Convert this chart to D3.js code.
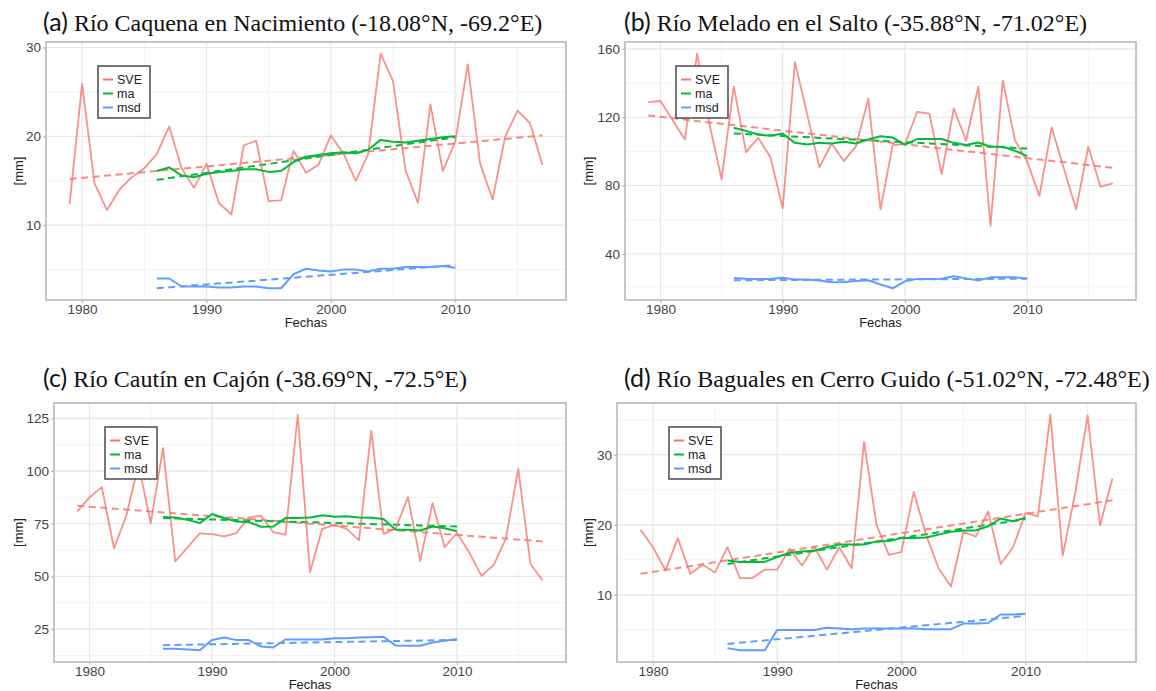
<!DOCTYPE html>
<html>
<head>
<meta charset="utf-8">
<script src="https://cdn.jsdelivr.net/npm/d3@7"></script>
<style>
body { margin: 0; background: #fff; }
svg { display: block; }
</style>
</head>
<body>
<svg id="chart" width="1156" height="691"></svg>
<script>
// years on the x axis
var sveYears = [1979, 1980, 1981, 1982, 1983, 1984, 1985, 1986, 1987, 1988, 1989, 1990, 1991, 1992, 1993, 1994, 1995, 1996, 1997, 1998,
	1999, 2000, 2001, 2002, 2003, 2004, 2005, 2006, 2007, 2008, 2009, 2010, 2011, 2012, 2013, 2014, 2015, 2016, 2017];
var movYears = [1986, 1987, 1988, 1989, 1990, 1991, 1992, 1993, 1994, 1995, 1996, 1997, 1998, 1999, 2000, 2001, 2002, 2003, 2004, 2005,
	2006, 2007, 2008, 2009, 2010];
var sveTrendYears = [1979, 2017];
var movTrendYears = [1986, 2010];
var xTicks = [1980, 1990, 2000, 2010];
var xMinor = [1985, 1995, 2005, 2015];

// (a) Rio Caquena
var sveA = [12.4, 25.9, 14.7, 11.7, 14.0, 15.4, 16.4, 18.0, 21.1, 16.4, 14.2, 16.9, 12.5, 11.2, 19.0, 19.5, 12.7, 12.8, 18.4, 15.9,
	16.8, 20.1, 18.1, 15.0, 18.0, 29.3, 26.2, 16.2, 12.5, 23.6, 16.1, 19.4, 28.1, 16.9, 12.9, 19.9, 22.9, 21.5, 16.8];
var maA = [16.1, 16.5, 15.6, 15.4, 15.8, 16.0, 16.1, 16.3, 16.3, 16.0, 16.1, 17.1, 17.7, 17.9, 18.1, 18.2, 18.1, 18.5, 19.6, 19.4,
	19.3, 19.5, 19.7, 19.9, 20.0];
var msdA = [4.0, 4.0, 3.1, 3.1, 3.1, 3.0, 3.0, 3.1, 3.1, 2.9, 2.9, 4.5, 5.1, 4.9, 4.8, 5.0, 5.0, 4.8, 5.1, 5.1,
	5.3, 5.3, 5.3, 5.4, 5.2];
var sveTrendA = [15.2, 20.1];
var maTrendA = [15.1, 19.9];
var msdTrendA = [2.9, 5.5];

// (b) Rio Melado
var sveB = [128.8, 129.5, 118.2, 107.0, 157.2, 116.3, 83.6, 138.1, 99.6, 107.9, 96.5, 66.7, 152.3, 121.8, 90.6, 104.6, 94.3, 103.1, 130.9, 66.1,
	103.7, 104.2, 123.1, 122.1, 86.7, 125.1, 106.2, 138.1, 56.4, 141.6, 106.6, 93.9, 73.9, 114.0, 90.0, 66.1, 102.7, 79.3, 81.3];
var maB = [113.8, 112.0, 109.9, 109.1, 110.5, 105.0, 104.0, 105.0, 104.6, 105.6, 104.6, 107.0, 108.9, 108.1, 104.0, 107.2, 107.2, 107.2, 105.0, 103.7,
	105.2, 102.7, 102.7, 100.4, 97.2];
var msdB = [25.8, 25.4, 25.3, 25.3, 26.0, 24.9, 24.9, 24.3, 23.3, 23.5, 24.1, 24.5, 22.0, 19.8, 23.9, 25.3, 25.3, 25.4, 26.8, 25.6,
	24.3, 26.2, 26.2, 26.2, 25.6];
var sveTrendB = [121.0, 90.4];
var maTrendB = [110.5, 101.7];
var msdTrendB = [24.5, 25.4];

// (c) Rio Cautin
var sveC = [80.9, 87.5, 92.4, 63.4, 78.8, 103.0, 75.3, 110.9, 57.1, 63.8, 70.4, 70.1, 69.0, 70.6, 78.0, 78.8, 71.0, 69.8, 126.7, 52.1,
	72.6, 74.5, 72.6, 67.1, 119.1, 70.1, 72.9, 87.7, 57.4, 84.8, 63.9, 70.6, 61.4, 50.3, 55.5, 68.2, 101.1, 55.9, 48.1];
var maC = [78.2, 78.0, 76.9, 75.3, 79.6, 77.7, 76.1, 75.8, 73.6, 73.7, 77.7, 77.7, 78.0, 79.0, 78.3, 78.6, 78.0, 77.8, 77.2, 72.2,
	72.2, 71.8, 73.7, 72.9, 71.4];
var msdC = [15.7, 15.7, 15.3, 15.0, 19.9, 21.0, 19.8, 19.8, 16.8, 16.3, 20.1, 20.1, 20.1, 20.1, 20.7, 20.7, 21.0, 21.2, 21.4, 17.2,
	17.1, 17.1, 18.7, 19.5, 20.3];
var sveTrendC = [83.5, 66.6];
var maTrendC = [77.7, 73.7];
var msdTrendC = [17.4, 19.9];

// (d) Rio Baguales
var sveD = [19.3, 16.8, 13.5, 18.1, 13.0, 14.3, 13.2, 16.8, 12.4, 12.4, 13.6, 13.6, 16.6, 14.2, 16.9, 13.6, 16.8, 13.8, 31.8, 20.0,
	15.7, 16.1, 24.7, 18.5, 13.8, 11.2, 19.0, 18.3, 21.9, 14.4, 16.8, 21.7, 21.2, 35.7, 15.6, 24.5, 35.6, 19.9, 26.6];
var maD = [14.9, 14.7, 14.7, 14.7, 15.4, 16.0, 16.2, 16.3, 16.8, 17.2, 17.2, 17.2, 17.6, 17.7, 18.1, 18.1, 18.2, 18.6, 19.0, 19.2,
	19.2, 19.8, 20.9, 20.5, 21.0];
var msdD = [2.4, 2.1, 2.1, 2.1, 5.0, 5.0, 5.0, 5.0, 5.3, 5.2, 5.1, 5.2, 5.2, 5.2, 5.2, 5.2, 5.1, 5.1, 5.1, 5.9,
	5.9, 6.0, 7.2, 7.2, 7.3];
var sveTrendD = [13.0, 23.5];
var maTrendD = [14.4, 20.8];
var msdTrendD = [3.0, 7.0];

// y ticks per panel
var yTicksA = [10, 20, 30], yMinorA = [5, 15, 25];
var yTicksB = [40, 80, 120, 160], yMinorB = [20, 60, 100, 140];
var yTicksC = [25, 50, 75, 100, 125], yMinorC = [12.5, 37.5, 62.5, 87.5, 112.5];
var yTicksD = [10, 20, 30], yMinorD = [5, 15, 25, 35];

var tags = ['(a)', '(b)', '(c)', '(d)'];
var names = ['Río Caquena en Nacimiento (-18.08°N, -69.2°E)', 'Río Melado en el Salto (-35.88°N, -71.02°E)',
	'Río Cautín en Cajón (-38.69°N, -72.5°E)', 'Río Baguales en Cerro Guido (-51.02°N, -72.48°E)'];
var seriesNames = ['SVE', 'ma', 'msd'];
var colors = ['#F8766D', '#00BA38', '#619CFF'];

var svg = d3.select('#chart');

var boxes = [
	{left: 46, top: 42, right: 566, bottom: 300, titleX: 43, titleY: 31, legX: 98, legY: 66, yLabX: 18},
	{left: 625, top: 42, right: 1136, bottom: 300, titleX: 624, titleY: 31, legX: 676, legY: 66, yLabX: 588},
	{left: 54, top: 403, right: 566, bottom: 662, titleX: 43, titleY: 387, legX: 105, legY: 427, yLabX: 18},
	{left: 617, top: 403, right: 1136, bottom: 662, titleX: 624, titleY: 387, legX: 669, legY: 427, yLabX: 588}
];

var panelData = [
	{sve: sveA, ma: maA, msd: msdA, trends: [sveTrendA, maTrendA, msdTrendA], yTicks: yTicksA, yMinor: yMinorA},
	{sve: sveB, ma: maB, msd: msdB, trends: [sveTrendB, maTrendB, msdTrendB], yTicks: yTicksB, yMinor: yMinorB},
	{sve: sveC, ma: maC, msd: msdC, trends: [sveTrendC, maTrendC, msdTrendC], yTicks: yTicksC, yMinor: yMinorC},
	{sve: sveD, ma: maD, msd: msdD, trends: [sveTrendD, maTrendD, msdTrendD], yTicks: yTicksD, yMinor: yMinorD}
];

function expand(ext) {
	var span = ext[1] - ext[0];
	return [ext[0] - span * 0.05, ext[1] + span * 0.05];
}

panelData.forEach(function(d, i) { drawPanel(d, boxes[i], i) });

function drawPanel(d, b, i) {
	var x = d3.scaleLinear()
		.domain(expand(d3.extent(sveYears)))
		.range([b.left, b.right]);
	var allVals = d.sve.concat(d.ma, d.msd, d.trends[0], d.trends[1], d.trends[2]);
	var y = d3.scaleLinear()
		.domain(expand(d3.extent(allVals)))
		.range([b.bottom, b.top]);

	var g = svg.append('g');

	// title
	var title = g.append('text')
		.attr('x', b.titleX)
		.attr('y', b.titleY)
		.attr('fill', '#111');
	title.append('tspan')
		.style('font-family', 'Lato, "Open Sans", sans-serif')
		.style('font-size', '25px')
		.text(tags[i]);
	title.append('tspan')
		.attr('dx', 6)
		.style('font-family', '"Liberation Serif", "Times New Roman", serif')
		.style('font-size', '24px')
		.text(names[i]);

	// grid
	g.selectAll('.minor-y').data(d.yMinor).enter().append('line')
		.attr('x1', b.left).attr('x2', b.right)
		.attr('y1', function(v) { return y(v) }).attr('y2', function(v) { return y(v) })
		.attr('stroke', '#f3f3f3').attr('stroke-width', 1);
	g.selectAll('.minor-x').data(xMinor).enter().append('line')
		.attr('y1', b.top).attr('y2', b.bottom)
		.attr('x1', function(v) { return x(v) }).attr('x2', function(v) { return x(v) })
		.attr('stroke', '#f3f3f3').attr('stroke-width', 1);
	g.selectAll('.major-y').data(d.yTicks).enter().append('line')
		.attr('x1', b.left).attr('x2', b.right)
		.attr('y1', function(v) { return y(v) }).attr('y2', function(v) { return y(v) })
		.attr('stroke', '#e6e6e6').attr('stroke-width', 1.2);
	g.selectAll('.major-x').data(xTicks).enter().append('line')
		.attr('y1', b.top).attr('y2', b.bottom)
		.attr('x1', function(v) { return x(v) }).attr('x2', function(v) { return x(v) })
		.attr('stroke', '#e6e6e6').attr('stroke-width', 1.2);

	var line = d3.line()
		.x(function(p) { return x(p[0]) })
		.y(function(p) { return y(p[1]) });

	var series = [d3.zip(sveYears, d.sve), d3.zip(movYears, d.ma), d3.zip(movYears, d.msd)];
	var trendYears = [sveTrendYears, movTrendYears, movTrendYears];

	// trend lines (dashed)
	series.forEach(function(s, k) {
		g.append('path')
			.datum(d3.zip(trendYears[k], d.trends[k]))
			.attr('d', line)
			.attr('fill', 'none')
			.attr('stroke', colors[k])
			.attr('stroke-opacity', k == 0 ? 0.85 : 1)
			.attr('stroke-width', 2)
			.attr('stroke-dasharray', '7,4.5');
	});

	// data lines
	series.forEach(function(s, k) {
		g.append('path')
			.datum(s)
			.attr('d', line)
			.attr('fill', 'none')
			.attr('stroke', colors[k])
			.attr('stroke-opacity', k == 0 ? 0.8 : 1)
			.attr('stroke-width', k == 0 ? 1.8 : 2)
			.attr('stroke-linejoin', 'round');
	});

	// border
	g.append('rect')
		.attr('x', b.left).attr('y', b.top)
		.attr('width', b.right - b.left).attr('height', b.bottom - b.top)
		.attr('fill', 'none')
		.attr('stroke', '#b8b8b8')
		.attr('stroke-width', 1.6);

	// axes
	var xAxis = g.append('g')
		.attr('transform', 'translate(0,' + b.bottom + ')')
		.call(d3.axisBottom(x).tickValues(xTicks).tickFormat(d3.format('d')).tickSizeInner(3).tickSizeOuter(0).tickPadding(1));
	var yAxis = g.append('g')
		.attr('transform', 'translate(' + b.left + ',0)')
		.call(d3.axisLeft(y).tickValues(d.yTicks).tickSizeInner(3).tickSizeOuter(0).tickPadding(2));
	[xAxis, yAxis].forEach(function(a) {
		a.select('.domain').remove();
		a.selectAll('line').attr('stroke', '#b8b8b8').attr('stroke-width', 1.2);
		a.selectAll('text')
			.attr('fill', '#444')
			.style('font-family', '"Liberation Sans", Arial, sans-serif')
			.style('font-size', '13.5px');
	});

	// axis titles
	g.append('text')
		.attr('x', (b.left + b.right) / 2)
		.attr('y', b.bottom + 27)
		.attr('text-anchor', 'middle')
		.attr('fill', '#222')
		.style('font-family', '"Liberation Sans", Arial, sans-serif')
		.style('font-size', '13px')
		.text('Fechas');
	g.append('text')
		.attr('transform', 'translate(' + (b.yLabX + 5) + ',' + ((b.top + b.bottom) / 2) + ') rotate(-90)')
		.attr('text-anchor', 'middle')
		.attr('fill', '#222')
		.style('font-family', '"Liberation Sans", Arial, sans-serif')
		.style('font-size', '13px')
		.text('[mm]');

	// legend
	var leg = g.append('g').attr('transform', 'translate(' + b.legX + ',' + b.legY + ')');
	leg.append('rect')
		.attr('width', 52).attr('height', 52)
		.attr('fill', '#fff')
		.attr('stroke', '#555')
		.attr('stroke-width', 1.6);
	seriesNames.forEach(function(n, k) {
		var ly = 13.5 + k * 14;
		leg.append('line')
			.attr('x1', 5).attr('x2', 15)
			.attr('y1', ly).attr('y2', ly)
			.attr('stroke', colors[k])
			.attr('stroke-width', 2);
		leg.append('text')
			.attr('x', 19).attr('y', ly + 4.5)
			.attr('fill', '#222')
			.style('font-family', '"Liberation Sans", Arial, sans-serif')
			.style('font-size', '12.5px')
			.text(n);
	});
}
</script>
</body>
</html>
